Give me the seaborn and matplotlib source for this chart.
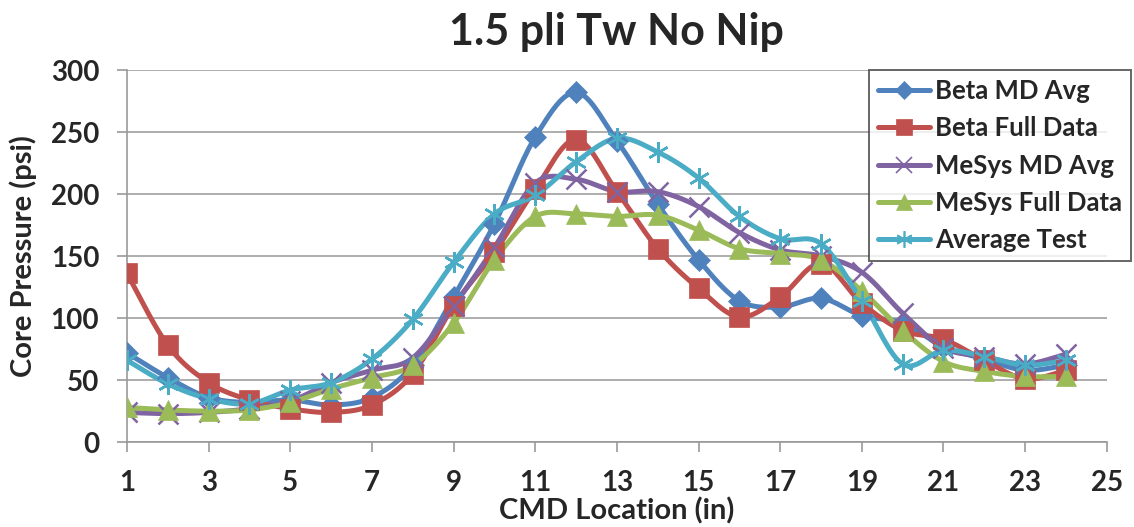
import numpy as np
import pandas as pd
import matplotlib
matplotlib.use("Agg")
import matplotlib.pyplot as plt
import seaborn as sns

# CMD positions (in) and core pressure readings (psi) for each series
location = list(range(1, 25))
beta_md_avg = [72, 52, 36, 32, 34, 30, 36, 62, 117, 176, 246, 282,
               243, 192, 147, 114, 109, 116, 102, 96, 77, 67, 58, 62]
beta_full = [136, 78, 48, 34, 27, 24, 30, 55, 110, 153, 204, 244,
             202, 156, 124, 101, 117, 144, 112, 90, 83, 66, 51, 58]
mesys_md_avg = [24, 23, 24, 27, 33, 48, 58, 68, 110, 157, 209, 212,
                202, 202, 190, 169, 155, 150, 137, 104, 76, 69, 63, 71]
mesys_full = [28, 26, 25, 26, 32, 43, 52, 62, 96, 147, 182, 184,
              182, 183, 171, 156, 152, 147, 122, 90, 65, 57, 53, 53]
avg_test = [66, 47, 35, 31, 42, 48, 67, 99, 145, 184, 199, 226,
            245, 234, 213, 182, 164, 160, 114, 63, 74, 69, 62, 66]

series_names = ["Beta MD Avg", "Beta Full Data", "MeSys MD Avg",
                "MeSys Full Data", "Average Test"]
series_values = [beta_md_avg, beta_full, mesys_md_avg, mesys_full, avg_test]
colors = ["#4F81BD", "#C0504D", "#8064A2", "#9BBB59", "#4BACC6"]
markers = ["D", "s", "x", "^", (6, 2, 0)]
msizes = [11, 15, 15, 15, 15]

x_ticks = list(range(1, 26, 2))
y_ticks = list(range(0, 301, 50))


def smooth_curve(xs, ys, steps=30):
    """Catmull-Rom style Bezier smoothing through every data point."""
    pts = np.column_stack([xs, ys]).astype(float)
    ext = np.vstack([pts[0], pts, pts[-1]])
    out = []
    t = np.linspace(0, 1, steps)[:, None]
    for i in range(1, len(ext) - 2):
        p0, p1, p2, p3 = ext[i - 1], ext[i], ext[i + 1], ext[i + 2]
        c1 = p1 + (p2 - p0) / 6.0
        c2 = p2 - (p3 - p1) / 6.0
        seg = ((1 - t) ** 3) * p1 + 3 * ((1 - t) ** 2) * t * c1 \
            + 3 * (1 - t) * t ** 2 * c2 + t ** 3 * p2
        out.append(seg if i == 1 else seg[1:])
    out = np.vstack(out)
    return out[:, 0], out[:, 1]


sns.set_theme(style="white")
plt.rcParams["font.family"] = ["Lato", "DejaVu Sans"]
plt.rcParams["font.weight"] = "bold"

fig = plt.figure(figsize=(11.34, 5.27), dpi=100)
ax = fig.add_axes([0.112, 0.161, 0.864, 0.706])

for name, vals, col, mk, ms in zip(series_names, series_values, colors, markers, msizes):
    sx, sy = smooth_curve(location, vals)
    curve = pd.DataFrame({"x": sx, "y": sy})
    sns.lineplot(data=curve, x="x", y="y", ax=ax, color=col, linewidth=3.6,
                 sort=False, estimator=None, zorder=2)
    mew = 1.8 if mk in ("x", (6, 2, 0)) else 0.5
    ax.plot(location, vals, linestyle="none", marker=mk, markersize=ms,
            color=col, markeredgecolor=col, markeredgewidth=mew, zorder=3)

# legend handles combine line and marker
handles = []
for name, col, mk, ms in zip(series_names, colors, markers, msizes):
    mew = 1.2 if mk in ("x", (6, 2, 0)) else 0.5
    h, = ax.plot([], [], color=col, linewidth=3.6, marker=mk,
                 markersize=ms * 0.8, markeredgewidth=mew, markeredgecolor=col)
    handles.append(h)
leg = ax.legend(handles, series_names, loc="upper right",
                bbox_to_anchor=(1131 / 1134, 1 - 70 / 527),
                bbox_transform=fig.transFigure, frameon=True, fancybox=False,
                prop={"size": 18.5, "weight": "bold"}, handlelength=2.0,
                handletextpad=0.2, labelspacing=0.52, borderpad=0.35,
                borderaxespad=0.0)
leg.get_frame().set_edgecolor("#404040")
leg.get_frame().set_linewidth(1.4)

ax.set_xlim(1, 25)
ax.set_ylim(0, 300)
ax.set_xticks(x_ticks)
ax.set_yticks(y_ticks)
ax.tick_params(axis="both", labelsize=20, length=7, width=1.2,
               color="#999999", direction="out", pad=13)
ax.tick_params(axis="x", bottom=True)
ax.tick_params(axis="y", left=True)
for lab in ax.get_xticklabels() + ax.get_yticklabels():
    lab.set_fontweight("bold")

ax.yaxis.grid(True, color="#A0A0A0", linewidth=1.2)
ax.xaxis.grid(False)
for side in ("top", "right"):
    ax.spines[side].set_visible(False)
for side in ("left", "bottom"):
    ax.spines[side].set_color("#999999")
    ax.spines[side].set_linewidth(1.2)

ax.set_xlabel("CMD Location (in)", fontsize=21, fontweight="bold", labelpad=1)
ax.set_ylabel("Core Pressure (psi)", fontsize=21, fontweight="bold", labelpad=10)
fig.text(616 / 1134, 1 - 32 / 527, "1.5 pli Tw No Nip", ha="center", va="center",
         fontsize=31, fontweight="bold")

fig.savefig("out.png", dpi=100)
